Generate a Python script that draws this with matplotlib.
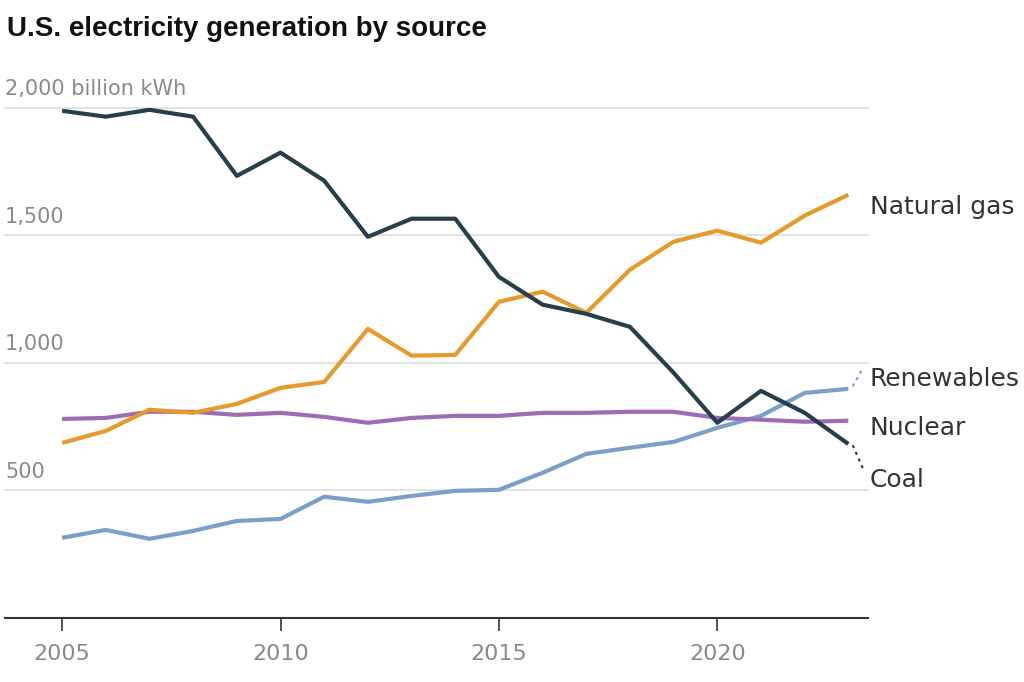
import numpy as np
import matplotlib.pyplot as plt

# Data (billion kWh)
years = np.arange(2005, 2024)
coal = [1988, 1965, 1992, 1965, 1733, 1824, 1714, 1494, 1565, 1565,
        1337, 1228, 1192, 1141, 961, 765, 890, 804, 682]
natural_gas = [686, 733, 816, 804, 839, 902, 925, 1133, 1028, 1031,
               1239, 1279, 1196, 1365, 1475, 1518, 1471, 1577, 1659]
nuclear = [780, 784, 808, 808, 796, 804, 788, 765, 784, 792,
           792, 804, 804, 808, 808, 784, 777, 769, 773]
renewables = [314, 345, 310, 341, 380, 388, 475, 455, 478, 498,
              502, 569, 643, 667, 690, 745, 792, 882, 898]

y_ticks = [500, 1000, 1500, 2000]
y_tick_labels = ['500', '1,000', '1,500', '2,000 billion kWh']
x_ticks = [2005, 2010, 2015, 2020]

c_coal = '#263f4a'
c_gas = '#e69a2b'
c_nuc = '#9c6db5'
c_ren = '#79a0c8'
grey = '#8a8a8a'

plt.rcParams['font.family'] = ['DejaVu Sans']

fig = plt.figure(figsize=(10.24, 6.82), dpi=100)
ax = fig.add_axes([0.005, 0.094, 0.843, 0.748])
ax.set_xlim(2003.695, 2023.458)
ax.set_ylim(0, 2000)

for y in y_ticks:
    ax.axhline(y, color='#dddddd', lw=1.2, zorder=0, clip_on=False)
for y, lab in zip(y_ticks, y_tick_labels):
    ax.annotate(lab, xy=(0, y), xycoords=('axes fraction', 'data'),
                xytext=(0, 6), textcoords='offset points',
                ha='left', va='bottom', fontsize=15, color=grey)

lw = 3.0
ax.plot(years, renewables, color=c_ren, lw=lw, solid_capstyle='butt')
ax.plot(years, nuclear, color=c_nuc, lw=lw, solid_capstyle='butt')
ax.plot(years, natural_gas, color=c_gas, lw=lw, solid_capstyle='butt')
ax.plot(years, coal, color=c_coal, lw=lw, solid_capstyle='butt')

# dotted leaders to labels
ax.plot([years[-1] + 0.1, years[-1] + 0.33], [renewables[-1] + 10, renewables[-1] + 80],
        color=c_ren, lw=1.5, ls=(0, (1.5, 2)))
ax.plot([years[-1] + 0.1, years[-1] + 0.33], [coal[-1] - 5, coal[-1] - 95],
        color=c_coal, lw=1.5, ls=(0, (1.5, 2)))

labels = [('Natural gas', natural_gas[-1] - 50), ('Renewables', renewables[-1] + 38),
          ('Nuclear', nuclear[-1] - 30), ('Coal', coal[-1] - 140)]
for text, y in labels:
    ax.annotate(text, xy=(1, y), xycoords=('axes fraction', 'data'),
                xytext=(1, 0), textcoords='offset points',
                ha='left', va='center', fontsize=18, color='#333333',
                annotation_clip=False)

for s in ['top', 'right', 'left']:
    ax.spines[s].set_visible(False)
ax.spines['bottom'].set_color('#333333')
ax.spines['bottom'].set_linewidth(1.5)
ax.set_yticks([])
ax.set_xticks(x_ticks)
ax.set_xticklabels([str(x) for x in x_ticks])
ax.tick_params(axis='x', length=9, width=1.2, color='#333333',
               labelsize=16, labelcolor=grey, pad=10)

fig.text(0.007, 0.958, 'U.S. electricity generation by source',
         fontsize=20, fontweight='bold', color='#111111', va='center', ha='left',
         family=['Liberation Sans', 'DejaVu Sans'])

fig.savefig('out.png', dpi=100)
